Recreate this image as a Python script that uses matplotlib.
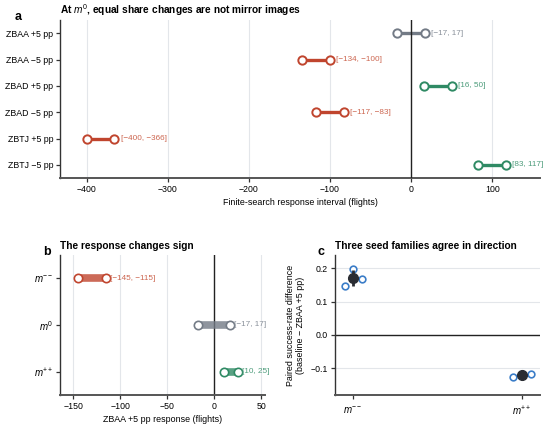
import matplotlib
matplotlib.use("Agg")
import matplotlib.pyplot as plt
import numpy as np

plt.rcParams['font.family'] = ['Liberation Sans', 'DejaVu Sans']
plt.rcParams['mathtext.fontset'] = 'custom'
plt.rcParams['mathtext.rm'] = 'Liberation Sans'
plt.rcParams['mathtext.it'] = 'Liberation Sans:italic'
plt.rcParams['mathtext.bf'] = 'Liberation Sans:bold'

# ---- data ----
a_labels = ["ZBAA +5 pp", "ZBAA \u22125 pp", "ZBAD +5 pp", "ZBAD \u22125 pp", "ZBTJ +5 pp", "ZBTJ \u22125 pp"]
a_low = [-17, -134, 16, -117, -400, 83]
a_high = [17, -100, 50, -83, -366, 117]
a_kind = ["zero", "neg", "pos", "neg", "neg", "pos"]

b_labels = ["$m^{--}$", "$m^{0}$", "$m^{++}$"]
b_low = [-145, -17, 10]
b_high = [-115, 17, 25]
b_kind = ["neg", "zero", "pos"]

c_labels = ["$m^{--}$", "$m^{++}$"]
c_seeds = [[0.146, 0.198, 0.168], [-0.127, -0.116, -0.117]]
c_mean = [0.171, -0.120]
c_err = [0.023, 0.014]
c_offsets = [-0.05, 0.0, 0.055]

colors = {"neg": "#c0452e", "zero": "#737b86", "pos": "#2f8a64"}
txt_colors = {"neg": "#cc6650", "zero": "#8a919b", "pos": "#4d9c7b"}

def fmt(v):
    return str(v).replace("-", "\u2212")

fig = plt.figure(figsize=(5.5, 4.3), dpi=100)

TS = 6.3    # tick size
LS = 6.4    # axis label size
AS = 5.9    # annotation size
TT = 7.3    # title size
MS = 7.0    # math tick labels
spine_c = "#333333"

def style(ax):
    for s in ["top", "right"]:
        ax.spines[s].set_visible(False)
    ax.spines["left"].set_color(spine_c)
    ax.spines["bottom"].set_color("#555555")
    ax.spines["left"].set_linewidth(1.0)
    ax.spines["bottom"].set_linewidth(1.4)
    ax.tick_params(labelsize=TS, length=3, width=0.9, color=spine_c, pad=2)

# ---- panel a ----
axa = fig.add_axes([60/550, 1-178/430, 480/550, 158/430])
style(axa)
ya = np.arange(len(a_labels))
for i in range(len(a_labels)):
    c = colors[a_kind[i]]
    axa.plot([a_low[i], a_high[i]], [ya[i], ya[i]], color=c, lw=2.4, zorder=3, solid_capstyle='butt')
    axa.plot([a_low[i], a_high[i]], [ya[i], ya[i]], 'o', ms=6, mfc='white', mec=c, mew=1.4, zorder=4)
    axa.text(a_high[i] + 8, ya[i], "[%s, %s]" % (fmt(a_low[i]), fmt(a_high[i])),
             color=txt_colors[a_kind[i]], fontsize=AS, va='center', ha='left', zorder=6)
axa.axvline(0, color="#222222", lw=1.0, zorder=5)
axa.set_yticks(ya)
axa.set_yticklabels(a_labels)
axa.set_ylim(5.5, -0.5)
axa.set_xlim(-433, 159)
axa.set_xticks([-400, -300, -200, -100, 0, 100])
axa.set_xticklabels([fmt(v) for v in [-400, -300, -200, -100, 0, 100]])
axa.grid(axis='x', color="#e3e6ea", lw=0.8, zorder=0)
axa.set_axisbelow(True)
axa.set_xlabel("Finite-search response interval (flights)", fontsize=LS, labelpad=3)
axa.set_title("At $m^{0}$, equal share changes are not mirror images", fontsize=TT,
              fontweight='bold', loc='left', pad=4)
fig.text(15/550, 1-17/430, "a", fontsize=9, fontweight='bold', va='center')

# ---- panel b ----
axb = fig.add_axes([60/550, 1-395/430, 205/550, 140/430])
style(axb)
yb = np.arange(len(b_labels))
for i in range(len(b_labels)):
    c = colors[b_kind[i]]
    axb.plot([b_low[i], b_high[i]], [yb[i], yb[i]], color=c, lw=5.5, alpha=0.8, zorder=3, solid_capstyle='butt')
    axb.plot([b_low[i], b_high[i]], [yb[i], yb[i]], 'o', ms=6, mfc='white', mec=c, mew=1.2, zorder=4)
    axb.text(b_high[i] + 4.5, yb[i], "[%s, %s]" % (fmt(b_low[i]), fmt(b_high[i])),
             color=txt_colors[b_kind[i]], fontsize=AS, va='center', ha='left', zorder=6)
axb.axvline(0, color="#222222", lw=1.0, zorder=2)
axb.set_yticks(yb)
axb.set_yticklabels(b_labels, fontsize=MS)
axb.set_ylim(2.5, -0.5)
axb.set_xlim(-164, 54)
axb.set_xticks([-150, -100, -50, 0, 50])
axb.set_xticklabels([fmt(v) for v in [-150, -100, -50, 0, 50]])
axb.grid(axis='x', color="#e3e6ea", lw=0.8, zorder=0)
axb.set_axisbelow(True)
axb.set_xlabel("ZBAA +5 pp response (flights)", fontsize=LS, labelpad=3)
axb.set_title("The response changes sign", fontsize=TT, fontweight='bold', loc='left', pad=4)
fig.text(43/550, 1-252/430, "b", fontsize=9, fontweight='bold', va='center')

# ---- panel c ----
axc = fig.add_axes([335/550, 1-395/430, 205/550, 140/430])
style(axc)
xc = np.arange(len(c_labels))
for i in range(len(c_labels)):
    xs = [xc[i] + o for o in c_offsets]
    axc.plot(xs, c_seeds[i], 'o', ms=4.8, mfc='white', mec="#3b7dc8", mew=1.2, zorder=3)
    axc.errorbar(xc[i], c_mean[i], yerr=c_err[i], fmt='o', ms=7, color="#2a2d33",
                 ecolor="#2a2d33", elinewidth=2.0, capsize=0, zorder=4)
axc.axhline(0, color="#222222", lw=1.0, zorder=2)
axc.set_xticks(xc)
axc.set_xticklabels(c_labels, fontsize=MS)
axc.tick_params(axis='x', pad=4)
axc.set_xlim(-0.107, 1.107)
axc.set_ylim(-0.18, 0.24)
axc.set_yticks([-0.1, 0.0, 0.1, 0.2])
axc.set_yticklabels(["\u22120.1", "0.0", "0.1", "0.2"])
axc.grid(axis='y', color="#e3e6ea", lw=0.8, zorder=0)
axc.set_axisbelow(True)
axc.set_ylabel("Paired success-rate difference\n(baseline \u2212 ZBAA +5 pp)", fontsize=LS, labelpad=4)
axc.set_title("Three seed families agree in direction", fontsize=TT, fontweight='bold', loc='left', pad=4)
fig.text(318/550, 1-252/430, "c", fontsize=9, fontweight='bold', va='center')

fig.savefig("out.png", dpi=100)
